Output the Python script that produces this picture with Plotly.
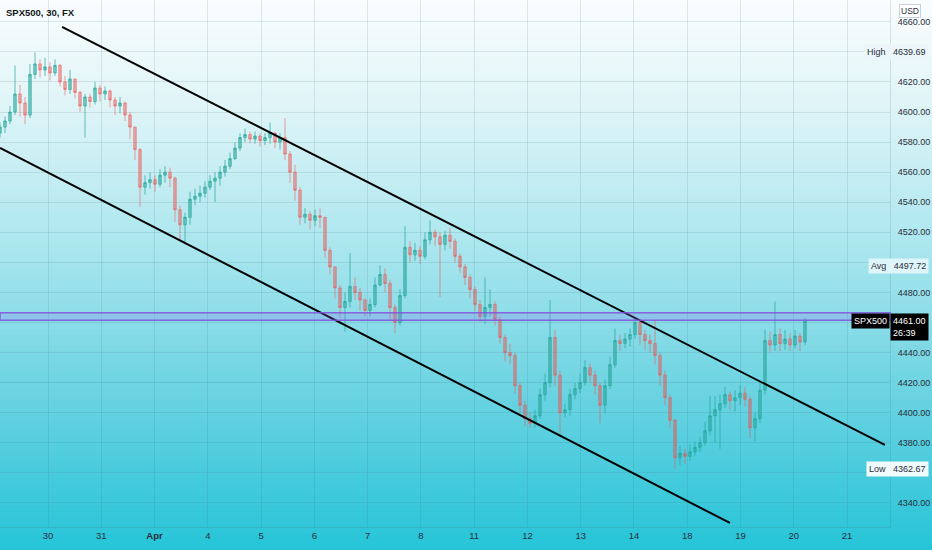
import plotly.graph_objects as go

# ---------------- data ----------------
title_text = "SPX500, 30, FX"
day_labels = ["30", "31", "<b>Apr</b>", "4", "5", "6", "7", "8", "11", "12", "13", "14", "18", "19", "20", "21"]

first_open = 4586
closes = [
    4590, 4594, 4600, 4612, 4606, 4598, 4625, 4632, 4628, 4630,
    4626, 4631, 4620, 4615, 4622, 4613, 4604, 4610, 4607, 4616,
    4612, 4614, 4608, 4604, 4606, 4598, 4590, 4575, 4550, 4553,
    4555, 4552, 4558, 4560, 4556, 4535, 4525, 4530, 4542, 4544,
    4546, 4550, 4554, 4556, 4560, 4564, 4569, 4576, 4583, 4585,
    4582, 4584, 4581, 4583, 4586, 4580, 4583, 4572, 4560, 4548,
    4530, 4532, 4528, 4531, 4530, 4508, 4497, 4483, 4470, 4474,
    4484, 4480, 4475, 4468, 4472, 4485, 4492, 4486, 4470, 4460,
    4478, 4510, 4505, 4508, 4504, 4515, 4520, 4517, 4512, 4518,
    4514, 4504, 4497, 4490, 4482, 4472, 4464, 4470, 4472, 4462,
    4450, 4440, 4438, 4418, 4405, 4396, 4393, 4398, 4412, 4420,
    4450, 4425, 4400, 4402, 4412, 4416, 4420, 4430, 4425, 4418,
    4405, 4418, 4432, 4448, 4446, 4449, 4452, 4460, 4452, 4448,
    4446, 4438, 4425, 4410, 4395, 4370, 4373, 4371, 4374, 4377,
    4380, 4388, 4398, 4402, 4406, 4412, 4408, 4410, 4413, 4409,
    4390, 4396, 4415, 4448, 4445, 4452, 4446, 4449, 4445, 4451,
    4447, 4461,
]
highs = [
    4593, 4597, 4604, 4631, 4618, 4610, 4632, 4639.69, 4635, 4636,
    4633, 4635, 4632, 4624, 4628, 4622, 4614, 4612, 4612, 4620,
    4618, 4617, 4615, 4610, 4610, 4607, 4600, 4590, 4576, 4558,
    4560, 4558, 4562, 4564, 4563, 4557, 4538, 4533, 4547, 4549,
    4551, 4554, 4558, 4560, 4564, 4568, 4573, 4580, 4586, 4589,
    4587, 4587, 4586, 4586, 4593, 4587, 4586, 4596, 4574, 4565,
    4550, 4536, 4534, 4535, 4536, 4530, 4510, 4497, 4485, 4480,
    4506, 4490, 4483, 4476, 4476, 4490, 4498, 4496, 4488, 4472,
    4482, 4524, 4514, 4513, 4511, 4520, 4528, 4522, 4520, 4521,
    4523, 4516, 4506, 4499, 4492, 4484, 4475, 4490, 4482, 4474,
    4464, 4452, 4446, 4440, 4420, 4408, 4400, 4402, 4416, 4426,
    4475, 4455, 4428, 4406, 4416, 4420, 4426, 4435, 4433, 4428,
    4420, 4422, 4437, 4456, 4452, 4453, 4456, 4463, 4462, 4455,
    4452, 4462, 4440, 4428, 4412, 4396, 4378, 4376, 4379, 4381,
    4384, 4394, 4411, 4411, 4412, 4417, 4414, 4415, 4418, 4417,
    4411, 4400, 4420, 4455, 4454, 4474, 4456, 4455, 4453, 4455,
    4453, 4463,
]
lows = [
    4583, 4586, 4592, 4598, 4597, 4592, 4596, 4622, 4623, 4624,
    4621, 4624, 4617, 4611, 4612, 4609, 4600, 4583, 4603, 4605,
    4607, 4608, 4603, 4598, 4599, 4594, 4582, 4568, 4537, 4545,
    4549, 4547, 4550, 4553, 4550, 4527, 4515, 4512.5, 4525, 4538,
    4540, 4543, 4548, 4540, 4551, 4557, 4562, 4568, 4574, 4580,
    4579, 4579, 4577, 4578, 4579, 4576, 4575, 4568, 4553, 4541,
    4525, 4526, 4522, 4524, 4523, 4503, 4492, 4476, 4463, 4454,
    4470, 4475, 4468, 4464, 4464, 4470, 4484, 4480, 4462, 4453,
    4458, 4476, 4500, 4501, 4499, 4502, 4512, 4511, 4477, 4508,
    4509, 4500, 4493, 4485, 4476, 4468, 4460, 4459, 4464, 4458,
    4446, 4434, 4432, 4413, 4400, 4391, 4390, 4390, 4396, 4408,
    4417, 4418, 4384, 4397, 4398, 4409, 4413, 4418, 4420, 4412,
    4393, 4400, 4416, 4430, 4441, 4443, 4444, 4449, 4445, 4442,
    4440, 4432, 4418, 4405, 4390, 4362.67, 4365, 4366, 4368, 4371,
    4374, 4378, 4385, 4380, 4376, 4403, 4402, 4401, 4405, 4404,
    4383, 4381, 4393, 4412, 4440, 4441, 4441, 4442, 4441, 4443,
    4441, 4445,
]

# trend channel endpoints (x in trading-day units, y in price)
upper_x = [0.263, 15.71]
upper_y = [4656.6, 4378.6]
lower_x = [-0.901, 12.80]
lower_y = [4576.1, 4326.7]

# zone and statistics
zone_low, zone_high = 4461.5, 4466.5
high_value = 4639.69
avg_value = 4497.72
low_value = 4362.67
last_price = 4461.00
countdown = "26:39"
price_ticks = list(range(4340, 4661, 20))
covered_ticks = [4360, 4460, 4500, 4640]   # hidden behind the price/stat labels

# ---------------- figure ----------------
opens = [first_open] + closes[:-1]
bar_start = -0.901
bar_step = 0.09386
xs = [bar_start + i * bar_step for i in range(len(closes))]

FONT = "Liberation Sans, Arial, sans-serif"
TXT = "#2a2e39"

fig = go.Figure()

fig.add_trace(go.Candlestick(
    x=xs, open=opens, high=highs, low=lows, close=closes,
    increasing=dict(line=dict(color="rgba(38,166,154,0.7)", width=1),
                    fillcolor="rgba(38,166,154,0.55)"),
    decreasing=dict(line=dict(color="rgba(239,83,80,0.55)", width=1),
                    fillcolor="rgba(239,83,80,0.45)"),
    whiskerwidth=0, hoverinfo="skip", showlegend=False,
))

for tx, ty in ((upper_x, upper_y), (lower_x, lower_y)):
    fig.add_trace(go.Scatter(x=tx, y=ty, mode="lines",
                             line=dict(color="#000000", width=2),
                             hoverinfo="skip", showlegend=False))

# gradient background (white -> cyan)
shapes = []
stops = [(0.0, (250, 253, 254)), (0.2, (222, 244, 247)), (0.45, (170, 230, 238)),
         (0.7, (110, 212, 226)), (1.0, (38, 196, 216))]


def grad(t):
    for (t0, c0), (t1, c1) in zip(stops[:-1], stops[1:]):
        if t <= t1:
            f = (t - t0) / (t1 - t0)
            return tuple(int(round(a + (b - a) * f)) for a, b in zip(c0, c1))
    return stops[-1][1]


n_bands = 110
y_top, y_bot = 1.0, -23 / 527
for k in range(n_bands):
    t = (k + 0.5) / n_bands
    a = y_top - (y_top - y_bot) * k / n_bands
    b = y_top - (y_top - y_bot) * (k + 1) / n_bands
    r, g, bb = grad(t)
    shapes.append(dict(type="rect", xref="paper", yref="paper", x0=-0.01, x1=1.06,
                       y0=b - 0.002, y1=a, fillcolor=f"rgb({r},{g},{bb})",
                       line=dict(width=0), layer="below"))

shapes.append(dict(type="rect", xref="paper", yref="y", x0=0, x1=1,
                   y0=zone_low, y1=zone_high,
                   fillcolor="rgba(150,110,235,0.22)",
                   line=dict(color="rgba(130,80,220,0.85)", width=1.5), layer="above"))

annotations = [
    dict(text=f"<b>{title_text}</b>", xref="paper", yref="paper", x=0.005, y=1 - 13 / 527,
         xanchor="left", yanchor="middle", showarrow=False,
         font=dict(family=FONT, size=9.5, color="#131722")),
    dict(text="USD", xref="paper", yref="paper", x=910 / 890, y=1 - 11 / 527,
         xanchor="center", yanchor="middle", showarrow=False,
         bgcolor="rgba(255,255,255,0.95)", bordercolor="#c9d2da", borderwidth=1, borderpad=1,
         font=dict(family=FONT, size=8.5, color=TXT)),
    dict(text=f"High&nbsp;&nbsp;&nbsp;{high_value:.2f}", xref="paper", yref="y",
         x=929 / 890, y=high_value, xanchor="right", yanchor="middle", showarrow=False,
         bgcolor="rgba(235,246,250,0.95)", borderpad=2,
         font=dict(family=FONT, size=9, color=TXT)),
    dict(text=f"Avg&nbsp;&nbsp;&nbsp;{avg_value:.2f}", xref="paper", yref="y",
         x=929 / 890, y=avg_value, xanchor="right", yanchor="middle", showarrow=False,
         bgcolor="rgba(225,245,250,0.95)", borderpad=2,
         font=dict(family=FONT, size=9, color=TXT)),
    dict(text=f"Low&nbsp;&nbsp;&nbsp;{low_value:.2f}", xref="paper", yref="y",
         x=929 / 890, y=low_value, xanchor="right", yanchor="middle", showarrow=False,
         bgcolor="rgba(245,252,253,0.97)", borderpad=2,
         font=dict(family=FONT, size=9, color=TXT)),
    dict(text="SPX500", xref="paper", yref="y", x=1.0, y=last_price,
         xanchor="right", yanchor="middle", showarrow=False,
         bgcolor="#000000", borderpad=2, font=dict(family=FONT, size=9, color="#ffffff")),
    dict(text=f"{last_price:.2f}<br>{countdown}", xref="paper", yref="y", x=1.0, y=last_price,
         xanchor="left", yanchor="top", yshift=8, showarrow=False, align="left",
         bgcolor="#000000", borderpad=2, font=dict(family=FONT, size=9, color="#ffffff")),
]

grid = "rgba(70,110,130,0.15)"
fig.update_layout(
    width=932, height=550,
    margin=dict(l=0, r=42, t=0, b=23),
    paper_bgcolor="#26c4d8", plot_bgcolor="rgba(0,0,0,0)",
    shapes=shapes, annotations=annotations,
    showlegend=False,
    xaxis=dict(range=[-0.901, 15.806], tickmode="array",
               tickvals=list(range(len(day_labels))), ticktext=day_labels,
               showgrid=True, gridcolor=grid, gridwidth=1, zeroline=False,
               showline=True, linecolor="rgba(70,110,130,0.18)", ticks="",
               rangeslider=dict(visible=False), fixedrange=True,
               tickfont=dict(family=FONT, size=9.5, color=TXT)),
    yaxis=dict(range=[4324.0, 4674.5], side="right", tickmode="array",
               tickvals=price_ticks,
               ticktext=["" if v in covered_ticks else f"{v:.2f}" for v in price_ticks],
               showgrid=True, gridcolor=grid, gridwidth=1, zeroline=False,
               showline=True, linecolor="rgba(70,110,130,0.18)", ticks="",
               ticklabelstandoff=5, fixedrange=True,
               tickfont=dict(family=FONT, size=9, color=TXT)),
)

fig.write_html("out.html", config={"displayModeBar": False},
               post_script="document.body.style.margin='0px';document.body.style.padding='0px';document.body.style.overflow='hidden';")
